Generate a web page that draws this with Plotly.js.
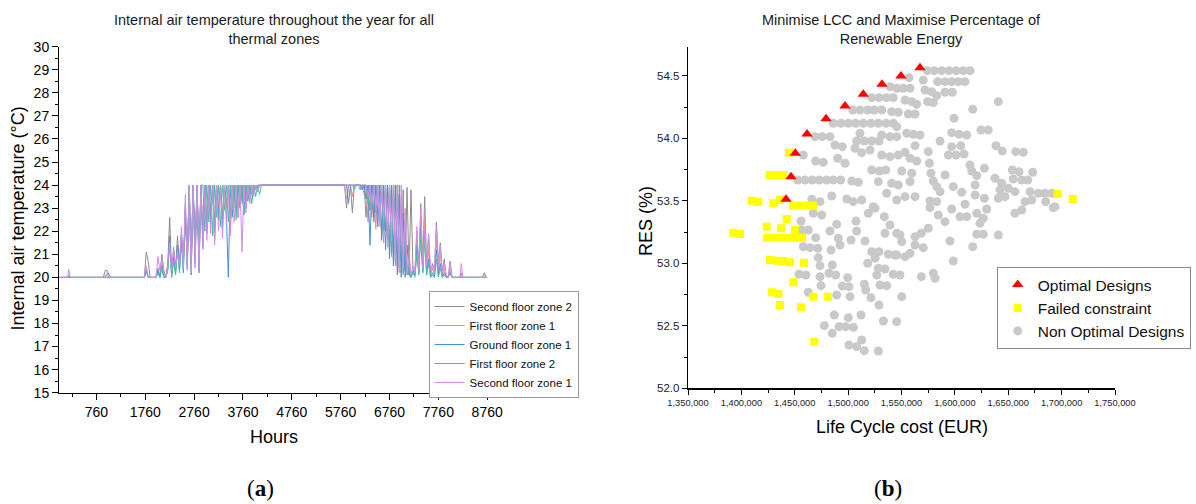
<!DOCTYPE html>
<html>
<head>
<meta charset="utf-8">
<script src="https://cdn.plot.ly/plotly-3.0.1.min.js"></script>
<style>html,body{margin:0;padding:0;background:#fff;}#chart{width:1196px;height:504px;}</style>
</head>
<body>
<div id="chart"></div>
<script>
// ---------- (a) Internal air temperature ----------
const zoneNames = ["Second floor zone 2", "First floor zone 1", "Ground floor zone 1", "First floor zone 2", "Second floor zone 1"];
const hourTicks = [760, 1760, 2760, 3760, 4760, 5760, 6760, 7760, 8760];
const hours = [0,170,196,222,900,940,980,1020,1060,1700,
1740,1780,1820,1860,1900,1940,1980,2020,2060,2100,
2140,2180,2220,2260,2300,2340,2380,2420,2460,2500,
2540,2580,2620,2660,2700,2740,2780,2820,2860,2900,
2940,2980,3020,3060,3100,3140,3180,3220,3260,3300,
3340,3380,3420,3460,3500,3540,3580,3620,3660,3700,
3740,3780,3820,3860,3900,3940,3980,4020,4060,4100,
4140,
4180,5800,
5840,5880,5920,5960,6000,6040,6080,6120,6160,6200,
6240,6280,6320,6360,6400,6440,6480,6520,6560,6600,
6640,6680,6720,6760,6800,6840,6880,6920,6960,7000,
7040,7080,7120,7160,7200,7240,7280,7320,7360,7400,
7440,7480,7520,7560,7600,7640,7680,7720,7760,7800,
7840,7880,7920,7960,
8000,8040,8200,8230,8260,8660,8700,8740,8760];

const tempSecondFloorZone2 = [20,20,20.1,20,20,20.3,20.3,20.1,20,20,
20,21.1,20.7,20,20,20,20,20.4,20,21.0,
20.3,20,20.6,22.6,20.2,21.3,20.4,21.8,20.6,21.9,
20.8,22.4,21.0,23.9,20.6,24,21.4,24,20.9,24,
21.8,24,22.2,24,22.8,24,22.4,24,23.0,24,
22.7,24,23.2,24,22.6,24,23.3,24,22.9,24,
23.4,24,23.1,24,23.5,24,23.7,24,23.8,24,
24,
24,24,
24,23.0,24,24,22.8,24,24,24,24,23.8,
24,22.6,24,22.9,24,22.4,24,22.7,24,21.8,
24,22.0,24,21.2,24,20.8,24,20.5,24,20.2,
23.8,20.3,23.9,20.1,23.8,20.4,20.2,22.0,20.3,23.2,
20.5,23.5,20.4,21.8,20.2,20.6,20.3,22.4,20.6,21.5,
20.2,20.8,20,20,
20.7,20,20,20.2,20,20,20.2,20,20];

const tempFirstFloorZone1 = [20,20,20,20,20,20.1,20.1,20,20,20,
20,20.4,20,20,20,20,20,20.2,20,20.6,
20,20,20.3,21.6,20,20.8,20.2,21.2,20.4,21.5,
20.5,22.8,20.6,23.5,20.3,24,20.8,24,20.5,24,
21.6,24,22.0,24,22.5,24,22.0,24,22.8,24,
22.4,24,23.0,24,22.0,24,23.0,24,22.6,24,
23.2,24,23.0,24,23.4,24,23.6,24,23.8,24,
24,
24,24,
24,23.4,24,24,23.5,24,24,24,24,24,
23.6,24,22.4,24,22.6,24,22.1,24,22.3,24,
21.5,24,21.4,24,20.9,24,20.5,24,20.2,23.5,
20.1,22.5,20.1,21.2,20,20.2,20.1,21.6,20.2,22.4,
20.3,22.6,20.2,21.2,20.1,20.4,20.1,21.6,20.3,21.0,
20.1,20.4,20,20,
20.3,20,20,20.1,20,20,20.1,20,20];

const tempGroundFloorZone1 = [20,20,20,20,20,20,20,20,20,20,
20,20.3,20,20,20,20,20,20.3,20,20.5,
20,20,20.4,21.8,20.1,20.9,20.2,21.4,20.3,21.6,
20.2,23.2,20.4,24,20.1,24,20.6,24,20.2,24,
21.3,24,21.9,24,22.3,24,21.6,24,22.5,24,
22.1,24,22.7,20.0,24,22.6,24,22.9,24,23.0,
24,22.7,24,23.3,24,23.6,24,23.8,24,24,
24,
24,24,
24,24,23.2,24,24,24,24,24,24,23.8,
24,23.4,24,21.4,24,22.6,24,22.2,24,21.6,
24,21.2,24,20.8,24,20.5,24,20.1,23.6,20.0,
22.8,20.0,21.4,20.1,20,20.3,20.1,21.4,20.2,22.2,
20.2,22.0,20.1,20.8,20,20.2,20,21.2,20.1,20.6,
20,20.2,20,20,
20.2,20,20,20,20,20,20,20,20];

const tempFirstFloorZone2 = [20,20,20,20,20,20,20,20,20,20,
20,20.2,20,20,20,20,20,20.2,20,20.4,
20,20,20.3,21.4,20,20.7,20.1,21.2,20.2,21.8,
20.3,23.0,20.5,24,20.4,24,21.0,24,20.8,24,
24,22.0,24,22.4,24,21.8,24,22.6,24,22.2,
24,22.9,24,22.4,24,23.0,24,22.5,24,23.2,
24,22.8,24,23.4,24,23.2,24,23.5,24,23.6,
24,
24,24,
24,24,24,24,24,23.8,24,24,23.8,24,
24,24,23.2,24,23.0,24,22.8,24,22.4,24,
22.0,24,21.6,24,21.0,24,20.7,24,20.4,23.2,
20.2,22.0,20.1,20.6,20,20.2,20,21.0,20.1,21.8,
20.2,21.6,20.1,20.6,20,20.1,20,20.8,20,20.4,
20,20.1,20,20,
20.2,20,20,20,20,20,20,20,20];

const tempSecondFloorZone1 = [20,20,20.35,20,20,20,20.2,20,20,20,
20,20.5,20,20,20,20,20,20.9,20.3,20.8,
20.2,20,20.5,21.5,20.3,21.2,20.4,21.1,20.5,22.2,
20.4,23.6,20.3,24,20.2,24,20.4,24,20.3,24,
21.2,24,21.6,24,21.9,24,21.4,24,22.0,24,
21.7,24,22.3,24,21.8,24,22.4,24,22.6,24,
21.1,24,22.8,24,23.2,24,23.5,24,23.7,24,
24,
24,24,
24,24,24,24,24,24,24,24,24,24,
24,24,23.5,24,23.2,24,22.9,24,22.2,24,
22.5,24,21.3,24,21.6,24,20.6,24,20.3,24,
20.4,23.0,20.2,20.8,20.1,20.5,20.2,22.2,20.3,23.0,
20.4,22.0,20.5,21.9,20.3,20.5,20.2,22.2,20.4,21.4,
20.2,20.6,20.1,20,
20.6,20,20,20.6,20,20,20,20,20];

// ---------- (b) LCC vs RES ----------
const seriesNames = ["Optimal Designs", "Failed constraint", "Non Optimal Designs"];
const optimalLCC = [1567300,1549500,1531700,1514200,1497100,1479300,1461500,1450500,1446500,1441800];
const optimalRES = [54.565,54.498,54.432,54.352,54.258,54.157,54.034,53.880,53.693,53.512];

const failedLCC = [1444600,1426800,1433100,1439300,1409700,1415900,1429900,1436200,1448400,1454900,
1461500,1467100,1442500,1423700,1437100,1450200,1392400,1398700,1424000,1430600,
1437100,1443700,1450200,1456800,1426800,1433100,1439300,1445600,1458700,1448600,
1428400,1434600,1436200,1455900,1467400,1480900,1468300,1696300,1710400];
const failedRES = [53.885,53.706,53.706,53.706,53.501,53.493,53.480,53.506,53.461,53.461,
53.461,53.461,53.354,53.293,53.280,53.266,53.245,53.234,53.205,53.205,
53.205,53.205,53.205,53.205,53.026,53.021,53.018,53.008,53.005,52.848,
52.768,52.754,52.666,52.648,52.733,52.733,52.373,53.554,53.514];

const nonOptimalLCC = [1539200,1522100,1528900,1535800,1542300,1504300,1511100,1518300,1524500,1531500,1540800,
1486100,1493300,1500200,1507100,1514200,1521400,1528300,1535500,1542300,
1469000,1475800,1483000,1511100,1508000,1515200,1522100,1528900,1531500,1539200,1545500,
1487700,1494600,1506400,1512700,1520500,1458000,1469600,1476700,1490200,1497100,1531500,1539200,1547000,
1522100,1529200,1535200,1452800,1459600,1466400,1473000,1479900,1486100,1493000,
1503400,1509500,1528300,1540800,1547000,1484600,1498700,1512700,1504900,1523600,1536100,1545500,1465900,1473700,
1574200,1580700,1587700,1594500,1601100,1607900,1614200,1557000,1570400,
1583900,1590800,1597000,1603200,1609500,1545500,1551700,1558000,
1572000,1578300,1583000,1590800,1597600,1553300,1559600,1564200,1574500,1579800,1640700,
1547000,1556400,1562700,1616700,1599200,1545500,1554900,1561100,1567300,1597000,1603900,1611100,1624500,1631300,
1562700,1586100,1597000,1605500,1593900,1601100,1608600,1638500,1644400,1657000,1664100,
1553300,1558000,1564200,1575100,1576100,
1550200,1559600,1577600,1590800,1614200,1615800,1627600,1620500,1653800,1660100,1672900,
1558000,1579800,1583000,1586100,1598500,1606400,1618900,1637600,1643900,1654700,1662600,1668200,
1642300,1650100,1656300,1670400,1678200,1684400,1690700,1685100,1693800,
1553300,1562700,1576700,1583000,1609500,1618900,1627600,1640700,1647000,1665700,1672000,
1576700,1584500,1590800,1597000,1604800,1611100,1620500,1626600,1629800,1623500,1656300,1662600,1692200,
1575100,1568600,1562700,1548600,1550200,1562700,1570400,1558000,1553300,1545500,
1595400,1620500,1626600,1640700,1616700,1598500,
1548600,1568600,1579800,1581400,1550200,
1467400,1475300,1455900,1456500,1462700,1469600,1483000,1489300,1490800,1492400,
1507400,1508000,1502700,1515800,1518900,1525200,1533900,1539200,1534500,1545500,
1458000,1464300,1471500,1484000,1472100,1473700,1485200,
1454000,1460500,1473700,1482100,1488400,1499600,1494600,1500800,1474600,1462700,1489300,1501800,
1515200,1516500,1521400,1518300,1522100,1528900,1537600,1543900,1525200,1528300,1534500,1526800,1529900,1536100,1542300,
1528900,1533000,1545500,
1487100,1500200,1512100,1477700,1485200,1491500,1497700,1504900,1500800,1508000,1512700,1515200,1528300];
const nonOptimalRES = [54.413,54.325,54.325,54.325,54.325,54.226,54.226,54.226,54.226,54.226,54.213,
54.120,54.120,54.120,54.120,54.120,54.120,54.120,54.120,54.120,
54.013,54.013,54.013,54.040,53.978,53.978,53.978,53.978,54.026,54.013,54.013,
53.946,53.933,53.920,53.885,53.906,53.866,53.818,53.808,53.840,53.800,53.866,53.853,53.866,
53.746,53.738,53.746,53.666,53.666,53.666,53.666,53.666,53.666,53.666,
53.658,53.648,53.653,53.640,53.626,53.538,53.514,53.506,53.493,53.453,53.560,53.506,53.512,53.493,
54.541,54.541,54.541,54.541,54.541,54.541,54.541,54.485,54.466,
54.453,54.453,54.453,54.453,54.453,54.400,54.400,54.400,
54.386,54.373,54.341,54.368,54.368,54.306,54.293,54.272,54.293,54.285,54.293,
54.208,54.194,54.194,54.232,54.160,54.093,54.040,54.032,54.026,54.045,54.032,54.026,54.066,54.066,
53.941,53.978,53.933,53.941,53.866,53.866,53.874,53.941,53.898,53.893,53.888,
53.888,53.840,53.818,53.893,53.800,
53.738,53.720,53.720,53.706,53.786,53.738,53.760,53.701,53.746,53.733,53.728,
53.653,53.658,53.613,53.573,53.613,53.568,53.626,53.680,53.640,53.674,53.666,53.666,
53.586,53.600,53.573,53.573,53.560,53.560,53.560,53.493,53.453,
53.533,53.533,53.498,53.493,53.472,53.546,53.520,53.520,53.533,53.493,53.506,
53.445,53.386,53.333,53.434,53.373,53.373,53.400,53.360,53.434,53.320,53.400,53.426,53.445,
53.280,53.240,53.213,53.226,53.173,53.146,53.125,53.080,53.053,53.066,
53.178,53.232,53.232,53.226,53.133,53.018,
52.906,52.893,52.920,52.880,52.733,
53.400,53.386,53.338,53.266,53.266,53.205,53.258,53.312,53.200,53.146,
53.338,53.258,53.186,53.178,53.400,53.440,53.373,53.306,53.240,53.240,
53.133,53.125,53.120,53.106,53.045,52.981,52.986,
52.912,52.906,52.893,52.920,52.906,52.885,52.818,52.813,52.821,52.768,52.746,52.733,
52.832,52.786,52.725,53.000,53.093,53.093,53.072,53.066,53.040,52.960,52.954,52.906,52.826,52.821,52.912,
52.666,52.538,52.533,
52.586,52.565,52.586,52.501,52.440,52.493,52.493,52.488,52.346,52.333,52.386,52.301,52.298];

// ---------- build ----------
const W = 1196, H = 504;
const px = v => v / W;
const py = v => 1 - v / H;
const FONT = "Liberation Sans, Arial, Helvetica, sans-serif";

const zoneSeries = [tempSecondFloorZone2, tempFirstFloorZone1, tempGroundFloorZone1, tempFirstFloorZone2, tempSecondFloorZone1];
const zoneColors = ["#8e8e8e", "#f08a8a", "#4a90e2", "#3cc79b", "#d48ce8"];

const traces = zoneSeries.map((ys, i) => ({
  type: "scatter", mode: "lines", name: zoneNames[i],
  x: hours, y: ys, xaxis: "x", yaxis: "y", legend: "legend",
  line: {color: zoneColors[i], width: 1}
}));

traces.push({
  type: "scatter", mode: "markers", name: seriesNames[2],
  x: nonOptimalLCC, y: nonOptimalRES, xaxis: "x2", yaxis: "y2", legend: "legend2", legendrank: 3,
  marker: {symbol: "circle", size: 9, color: "#c9c9c9"}
});
traces.push({
  type: "scatter", mode: "markers", name: seriesNames[1],
  x: failedLCC, y: failedRES, xaxis: "x2", yaxis: "y2", legend: "legend2", legendrank: 2,
  marker: {symbol: "square", size: 8, color: "#ffff00"}
});
traces.push({
  type: "scatter", mode: "markers", name: seriesNames[0],
  x: optimalLCC, y: optimalRES, xaxis: "x2", yaxis: "y2", legend: "legend2", legendrank: 1,
  marker: {symbol: "triangle-up", size: 10, color: "#ff0000"}
});

const axisBase = {
  showline: true, linecolor: "#000", linewidth: 1.3, mirror: false,
  ticks: "outside", ticklen: 6, tickwidth: 1, tickcolor: "#000",
  showgrid: false, zeroline: false, fixedrange: true
};

const layout = {
  width: W, height: H,
  margin: {l: 0, r: 0, t: 0, b: 0},
  paper_bgcolor: "#fff", plot_bgcolor: "#fff",
  font: {family: FONT, color: "#000"},
  hovermode: false,
  xaxis: Object.assign({}, axisBase, {
    domain: [px(59.3), px(487.2)], anchor: "y", range: [0, 8760],
    tickmode: "array", tickvals: hourTicks, ticktext: hourTicks.map(String),
    tickfont: {size: 14, family: FONT},
    minor: {tick0: 260, dtick: 500, ticklen: 3, ticks: "outside", tickcolor: "#000"}
  }),
  yaxis: Object.assign({}, axisBase, {
    domain: [py(392.7), py(46.7)], anchor: "x", range: [15, 30],
    tick0: 15, dtick: 1, tickfont: {size: 14, family: FONT},
    minor: {dtick: 0.5, ticklen: 3, ticks: "outside", tickcolor: "#000"}
  }),
  xaxis2: Object.assign({}, axisBase, {
    domain: [px(688), px(1115)], anchor: "y2", range: [1350000, 1750000],
    tick0: 1350000, dtick: 50000, tickformat: ",.0f", ticklen: 5,
    tickfont: {size: 9.3, family: FONT, color: "#222"},
    minor: {dtick: 25000, ticklen: 3, ticks: "outside", tickcolor: "#000"}
  }),
  yaxis2: Object.assign({}, axisBase, {
    domain: [py(388.3), py(47)], anchor: "x2", range: [52, 54.73],
    tick0: 52, dtick: 0.5, tickformat: ".1f", ticklen: 5,
    tickfont: {size: 11.5, family: FONT, color: "#222"},
    minor: {dtick: 0.25, ticklen: 3, ticks: "outside", tickcolor: "#000"}
  }),
  legend: {
    x: px(428.6), y: py(291), xanchor: "left", yanchor: "top",
    bgcolor: "#fff", bordercolor: "#9a9a9a", borderwidth: 1,
    font: {size: 11.5, family: FONT, color: "#111"}, tracegroupgap: 0, itemwidth: 30
  },
  legend2: {
    x: px(996.7), y: py(267), xanchor: "left", yanchor: "top",
    bgcolor: "#fff", bordercolor: "#8a8a8a", borderwidth: 1,
    font: {size: 15.5, family: FONT, color: "#111"}, tracegroupgap: 0, itemwidth: 30
  },
  annotations: [
    {text: "Internal air temperature throughout the year for all<br>thermal zones", x: px(273.6), y: py(29.5),
     xref: "paper", yref: "paper", xanchor: "center", yanchor: "middle", showarrow: false,
     font: {size: 14.5, family: FONT, color: "#1a1a1a"}},
    {text: "Minimise LCC and Maximise Percentage of<br>Renewable Energy", x: px(901.8), y: py(29.5),
     xref: "paper", yref: "paper", xanchor: "center", yanchor: "middle", showarrow: false,
     font: {size: 14.5, family: FONT, color: "#1a1a1a"}},
    {text: "Hours", x: px(273.6), y: py(436.7), xref: "paper", yref: "paper",
     xanchor: "center", yanchor: "middle", showarrow: false, font: {size: 18, family: FONT}},
    {text: "Internal air temperature (°C)", x: px(17.5), y: py(219), xref: "paper", yref: "paper",
     xanchor: "center", yanchor: "middle", textangle: -90, showarrow: false, font: {size: 18, family: FONT}},
    {text: "Life Cycle cost (EUR)", x: px(902.4), y: py(426.7), xref: "paper", yref: "paper",
     xanchor: "center", yanchor: "middle", showarrow: false, font: {size: 18, family: FONT}},
    {text: "RES (%)", x: px(646), y: py(221), xref: "paper", yref: "paper",
     xanchor: "center", yanchor: "middle", textangle: -90, showarrow: false, font: {size: 18, family: FONT}},
    {text: "(<b>a</b>)", x: px(260.2), y: py(488.3), xref: "paper", yref: "paper",
     xanchor: "center", yanchor: "middle", showarrow: false, font: {size: 23, family: "Liberation Serif, DejaVu Serif, serif"}},
    {text: "(<b>b</b>)", x: px(888), y: py(488.3), xref: "paper", yref: "paper",
     xanchor: "center", yanchor: "middle", showarrow: false, font: {size: 23, family: "Liberation Serif, DejaVu Serif, serif"}}
  ]
};

Plotly.newPlot("chart", traces, layout, {displayModeBar: false, staticPlot: true});
</script>
</body>
</html>
